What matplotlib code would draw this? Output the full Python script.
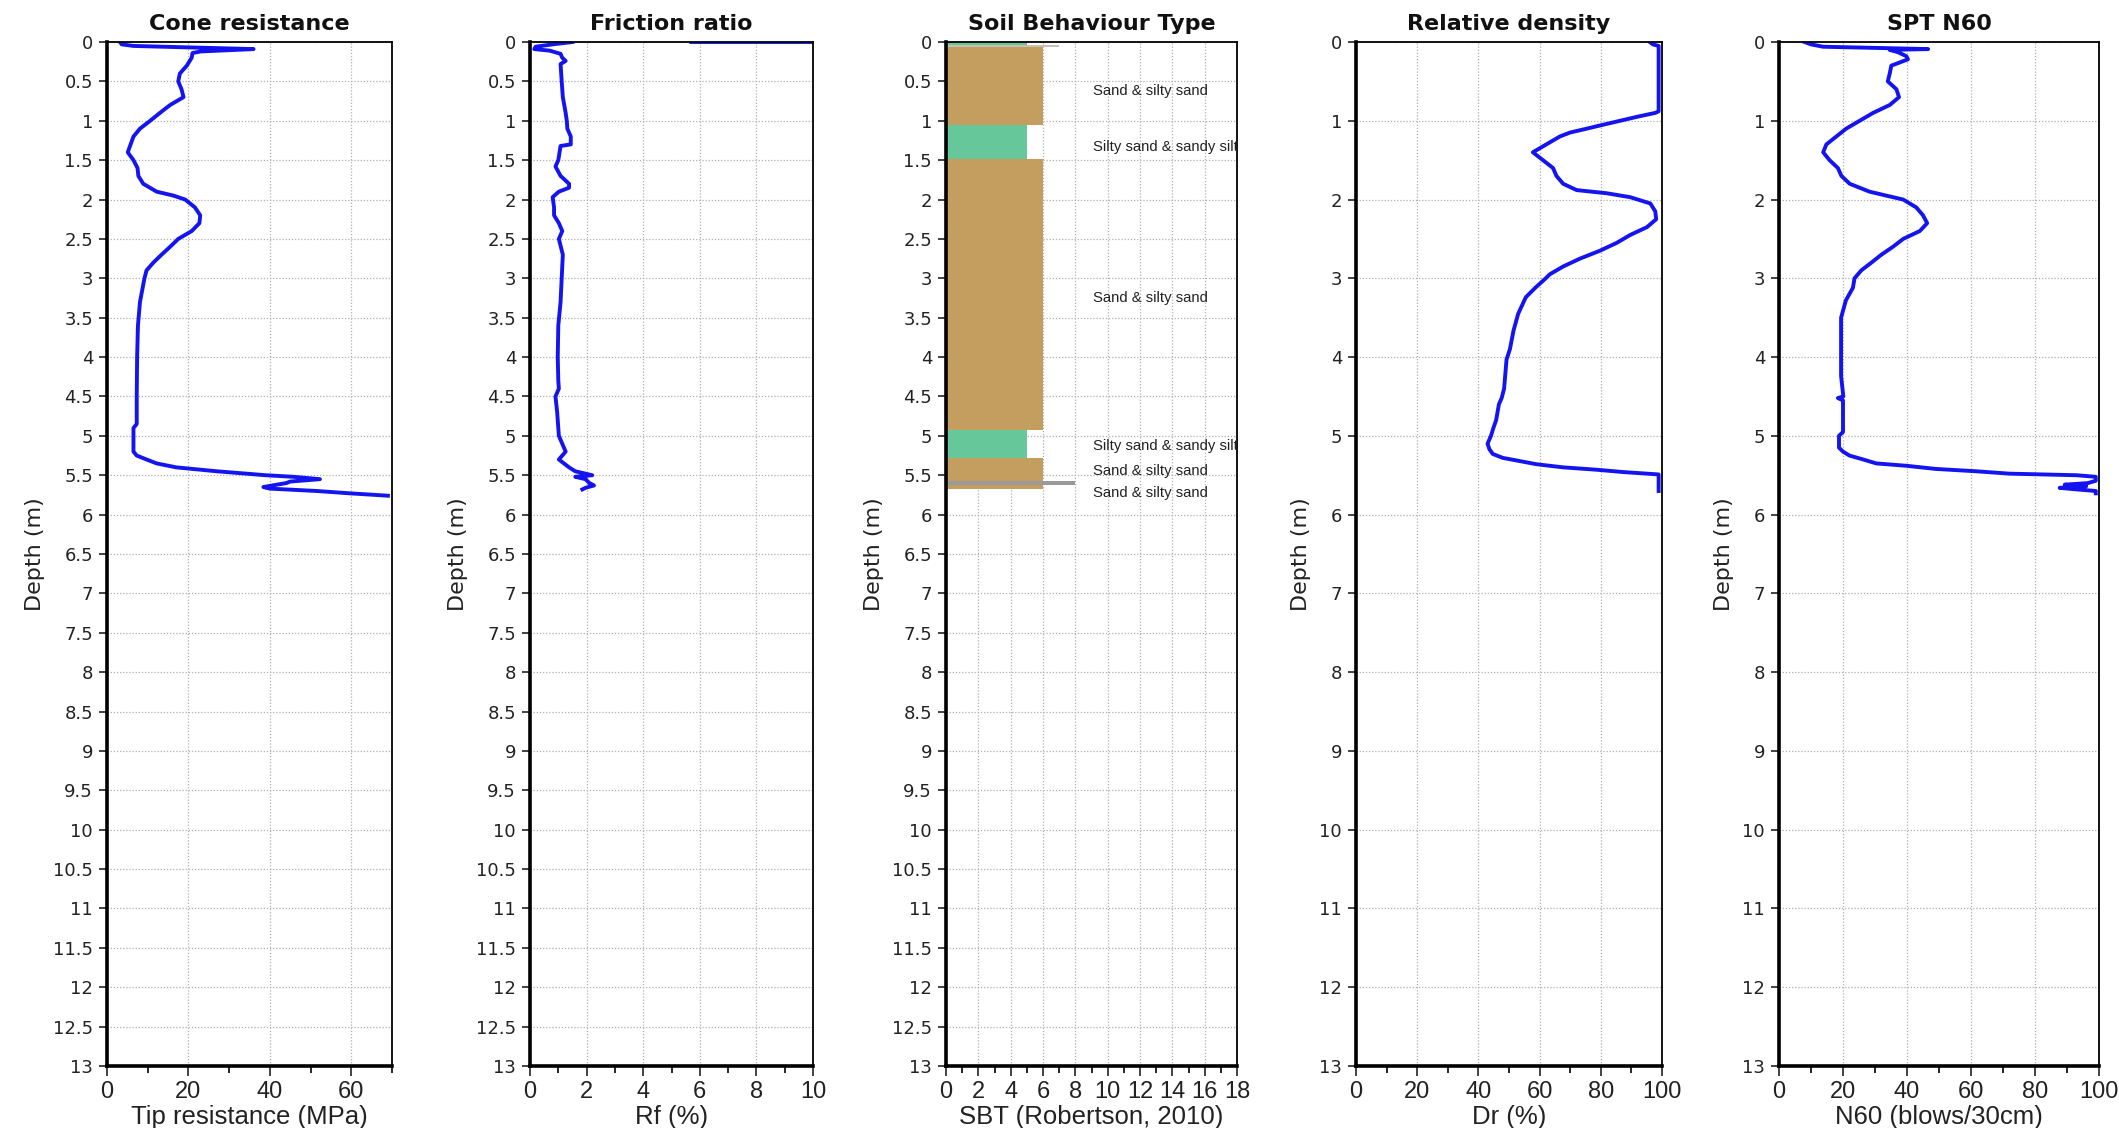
import numpy as np
import matplotlib
matplotlib.use("Agg")
import matplotlib.pyplot as plt
from matplotlib.ticker import MultipleLocator, FuncFormatter

nan = np.nan

# ---------------- data ----------------
qc_depth = [0.00, 0.03, 0.05, 0.09, 0.12, 0.14, 0.20, 0.30, 0.40, 0.50, 0.60, 0.70, 0.80, 0.90,
            1.00, 1.10, 1.20, 1.30, 1.40, 1.50, 1.60, 1.70, 1.80, 1.90, 1.95, 2.00, 2.10, 2.20,
            2.30, 2.40, 2.50, 2.60, 2.70, 2.80, 2.90, 3.00, 3.30, 3.60, 4.00, 4.50, 4.85, 4.90,
            5.20, 5.25, 5.30, 5.35, 5.40, 5.45, 5.50, 5.52, 5.55, 5.58, 5.60, 5.62, 5.65, 5.67,
            5.70, 5.73, 5.76]
qc = [3.2, 3.6, 6.5, 36, 23, 21, 20.8, 19.6, 17.9, 17.5, 18.3, 18.8, 15.5, 13,
      10.6, 8.1, 6.5, 5.8, 5.1, 6.5, 7.5, 7.7, 8.9, 12.2, 16.3, 19.2, 21.6, 22.9,
      22.7, 20.8, 17.5, 15.5, 13.4, 11.4, 9.7, 9.2, 8.1, 7.6, 7.4, 7.3, 7.3, 6.5,
      6.5, 7.3, 9.7, 12.2, 17, 27, 39, 45.8, 52.3, 45, 44, 41.7, 38.4, 40,
      51.5, 59.7, 69]

rf_depth = [0.0, 0.0, nan, 0.0, 0.03, 0.06, 0.09, 0.11, 0.15, 0.20, 0.24, 0.28, 0.5, 0.7, 0.9,
            1.0, 1.1, 1.2, 1.3, 1.32, 1.5, 1.58, 1.7, 1.8, 1.85, 1.9, 1.97, 2.1, 2.2, 2.3, 2.4,
            2.5, 2.7, 3.0, 3.3, 3.6, 4.0, 4.3, 4.4, 4.5, 4.7, 5.0, 5.1, 5.2, 5.3, 5.35, 5.4,
            5.45, 5.5, 5.52, 5.55, 5.6, 5.63, 5.66, 5.68]
rf = [5.7, 10, nan, 1.5, 0.8, 0.2, 0.15, 0.7, 1.08, 1.14, 1.26, 1.08, 1.12, 1.16, 1.26,
      1.3, 1.32, 1.44, 1.44, 1.08, 1.0, 0.9, 1.08, 1.38, 1.38, 1.02, 0.8, 0.85, 0.85, 1.02, 1.14,
      1.02, 1.16, 1.12, 1.08, 1.0, 0.98, 1.0, 1.02, 0.9, 0.96, 1.02, 1.14, 1.26, 1.02, 1.2, 1.38,
      1.6, 2.2, 1.6, 1.96, 2.1, 2.26, 1.96, 1.85]

sbt_top = [0.00, 0.04, 0.06, 1.05, 1.49, 4.92, 5.28, 5.57, 5.63]
sbt_bot = [0.04, 0.06, 1.05, 1.49, 4.92, 5.28, 5.57, 5.63, 5.68]
sbt_val = [5, 7, 6, 5, 6, 5, 6, 8, 6]
sbt_labels = ["Sand & silty sand", "Silty sand & sandy silt", "Sand & silty sand",
              "Silty sand & sandy silt", "Sand & silty sand", "Sand & silty sand"]
sbt_label_depth = [0.62, 1.33, 3.25, 5.13, 5.45, 5.72]

dr_depth = [0.0, 0.03, 0.05, 0.88, 0.9, 0.95, 1.0, 1.05, 1.1, 1.15, 1.2, 1.3, 1.4, 1.5, 1.6,
            1.7, 1.8, 1.88, 1.92, 1.97, 2.05, 2.15, 2.25, 2.35, 2.45, 2.55, 2.65, 2.75, 2.85,
            2.95, 3.0, 3.12, 3.24, 3.45, 3.66, 3.9, 4.03, 4.4, 4.52, 4.6, 4.8, 4.9, 5.0, 5.1,
            5.17, 5.23, 5.28, 5.32, 5.36, 5.4, 5.43, 5.46, 5.49, 5.7]
dr = [96, 97, 98.9, 98.9, 97.8, 91.8, 86.3, 80.8, 75.4, 69.9, 66.6, 62.2, 57.8, 61.1, 64.4,
      65.5, 67.7, 72.1, 81.9, 89.6, 96.2, 97.8, 98.1, 95.1, 89.6, 85.2, 79.7, 73.2, 67.7,
      63.3, 62, 58.6, 55.5, 53, 51.5, 50.3, 49.2, 48.4, 47.6, 46.7, 45.8, 44.9, 44.1, 43,
      43.6, 44.7, 48, 53.5, 58.9, 67.7, 78.6, 87.4, 98.9, 98.9]

n_depth = [0.0, 0.03, 0.06, 0.09, 0.10, 0.13, 0.18, 0.22, 0.26, 0.3, 0.4, 0.5, 0.6, 0.7, 0.8,
           0.9, 1.0, 1.1, 1.2, 1.3, 1.4, 1.5, 1.6, 1.7, 1.8, 1.9, 1.95, 2.0, 2.1, 2.2, 2.3,
           2.4, 2.5, 2.6, 2.7, 2.8, 2.9, 3.0, 3.12, 3.28, 3.5, 3.95, 4.24, 4.5, 4.52, 4.55,
           4.6, 4.95, 5.0, 5.15, 5.2, 5.25, 5.3, 5.35, 5.38, 5.42, 5.45, 5.48, 5.5, 5.52,
           5.57, 5.6, 5.62, 5.64, 5.66, 5.68, 5.7, 5.73]
n60 = [8, 10, 13.8, 46.6, 34.6, 37.2, 39.8, 40.3, 37.7, 35.1, 34.6, 34, 36.7, 37.5, 34.6,
       29.4, 25.2, 21, 17.9, 14.8, 13.8, 15.8, 18.4, 19.5, 22.1, 28.3, 33.5, 38.8, 42.9, 45, 46.3,
       44, 38.8, 35.6, 32, 28.9, 25.7, 23.6, 23.1, 20.9, 19.4, 19.4, 19.4, 20.1, 18.4, 20,
       20, 20, 18.75, 18.75, 20, 22, 26.3, 30.4, 39.8, 49, 61.7, 72, 93, 99,
       99, 96.5, 89.3, 96, 87.7, 93, 99, 99]

titles = ["Cone resistance", "Friction ratio", "Soil Behaviour Type", "Relative density", "SPT N60"]
xlabels = ["Tip resistance (MPa)", "Rf (%)", "SBT (Robertson, 2010)", "Dr (%)", "N60 (blows/30cm)"]

# ---------------- style ----------------
W, H = 2119, 1128
fig = plt.figure(figsize=(W / 100, H / 100), dpi=100)

ax_px = [(107, 392), (530, 813), (946, 1237), (1356, 1662), (1779, 2099)]
top_px, bot_px = 42, 1066
xlims = [(0, 70), (0, 10), (0, 18), (0, 100), (0, 100)]
xmajor = [20, 2, 2, 20, 20]
xminor = [10, 1, 1, 10, 10]
ymajor = [0.5, 0.5, 0.5, 1, 1]

BLUE = "#1414F0"
narrow = ["Liberation Sans", "DejaVu Sans"]
sbt_colors = {5: "#66C79B", 6: "#C39E5F", 7: "#C8C0B0", 8: "#9A9A9A"}

axes = []
for i, (x0, x1) in enumerate(ax_px):
    ax = fig.add_axes([x0 / W, 1 - bot_px / H, (x1 - x0) / W, (bot_px - top_px) / H])
    axes.append(ax)
    ax.set_xlim(*xlims[i])
    ax.set_ylim(13, 0)
    ax.xaxis.set_major_locator(MultipleLocator(xmajor[i]))
    ax.xaxis.set_minor_locator(MultipleLocator(xminor[i]))
    ax.yaxis.set_major_locator(MultipleLocator(ymajor[i]))
    ax.yaxis.set_major_formatter(FuncFormatter(lambda v, p: f"{v:g}"))
    ax.grid(True, which="major", color="#B0B0B0", linestyle=(0, (1, 1.5)), linewidth=0.9)
    ax.set_axisbelow(True)
    for s in ["left", "bottom"]:
        ax.spines[s].set_linewidth(2.6)
    for s in ["top", "right"]:
        ax.spines[s].set_linewidth(1.3)
    ax.tick_params(axis="y", which="major", direction="out", length=6, width=1.2,
                   labelsize=13, pad=4, colors="#222222")
    ax.tick_params(axis="x", which="major", direction="out", length=7, width=1.2,
                   labelsize=17, pad=4, colors="#222222")
    ax.tick_params(axis="x", which="minor", direction="out", length=5, width=1.2)
    for lab in ax.get_xticklabels():
        lab.set_family(narrow)
    ax.set_title(titles[i], fontsize=16, fontweight="bold", pad=9, color="#111111")
    ax.set_xlabel(xlabels[i], fontsize=18.5, family=narrow, labelpad=1, color="#222222")
    ax.set_ylabel("Depth (m)", fontsize=16, color="#222222", labelpad=6)

axes[0].plot(qc, qc_depth, color=BLUE, lw=2.8)
axes[1].plot(rf, rf_depth, color=BLUE, lw=2.8)
axes[3].plot(dr, dr_depth, color=BLUE, lw=2.8)
axes[4].plot(n60, n_depth, color=BLUE, lw=2.8)

ax = axes[2]
for t, b, v in zip(sbt_top, sbt_bot, sbt_val):
    ax.barh((t + b) / 2, v, height=(b - t), left=0, color=sbt_colors[v], edgecolor="none", zorder=2)
for lab, d in zip(sbt_labels, sbt_label_depth):
    ax.text(9.1, d, lab, fontsize=10.7, family=narrow, va="center", ha="left",
            color="#222222", clip_on=True, zorder=3)

fig.savefig("out.png", dpi=100, facecolor="white")
